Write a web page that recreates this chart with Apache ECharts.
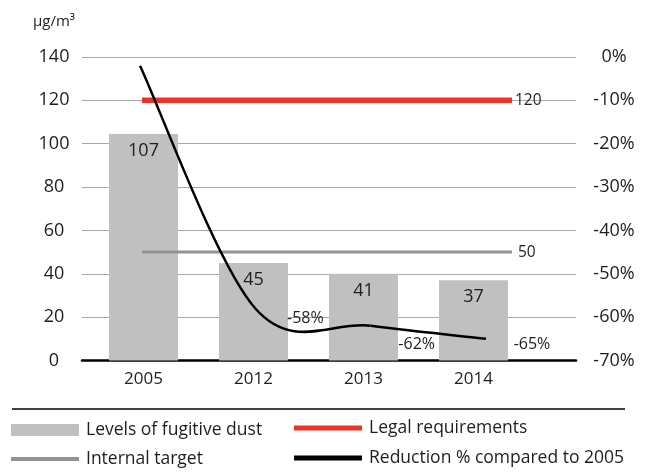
<!DOCTYPE html>
<html>
<head>
<meta charset="utf-8">
<script src="https://cdn.jsdelivr.net/npm/echarts@6/dist/echarts.min.js"></script>
<style>html,body{margin:0;padding:0;background:#fff}#c{width:647px;height:475px}</style>
</head>
<body>
<div id="c"></div>
<script>
// ---- data ----
var years = ['2005', '2012', '2013', '2014'];
var dustLevels = [104.5, 45, 40, 37];          // bar heights
var dustLabels = ['107', '45', '41', '37'];    // printed values on the bars
var legalRequirement = [120, 120, 120, 120];
var internalTarget = [50, 50, 50, 50];
var reductionPct = [-2, -58, -62, -65];
var leftTicks = [0, 140, 20];
var rightTicks = [-70, 0, 10];

var FONT = 'Open Sans';
var TXT = '#1e1e1e';
var labelOffsets = [null, [50, 10], [46, 19], [46, 6]];

var chart = echarts.init(document.getElementById('c'));
var grids = [
  {left: 82, right: 71, top: 57, bottom: 114.5},
  {left: 88.5, right: 118.5, top: 57, bottom: 114.5},
  {left: 140, right: 161, top: 57, bottom: 114.5},
  {left: 142, right: 135, top: 57, bottom: 114.5}
];

function legend(name, left, top, h) {
  return {
    data: [name], left: left, top: top, orient: 'horizontal',
    itemWidth: 68, itemHeight: h, icon: 'rect', selectedMode: false,
    padding: 0,
    textStyle: {fontFamily: FONT, fontSize: 17.5, color: TXT, padding: [0, 0, 0, 2]}
  };
}

var option = {
  animation: false,
  title: {text: 'μg/m³', left: 28, top: 9, textStyle: {fontFamily: FONT, fontSize: 15, fontWeight: 'normal', color: TXT}},
  grid: grids,
  xAxis: [
    {gridIndex: 0, type: 'value', min: 0, max: 1, axisLabel: {show: false}, axisTick: {show: false}, splitLine: {show: false},
     axisLine: {show: true, onZero: false, lineStyle: {color: '#000', width: 2.5}}},
    {gridIndex: 1, type: 'category', data: years, axisLine: {show: false}, axisTick: {show: false},
     axisLabel: {fontFamily: FONT, fontSize: 17, color: TXT, margin: 10}},
    {gridIndex: 2, type: 'category', data: years, boundaryGap: false, show: false},
    {gridIndex: 3, type: 'category', data: years, boundaryGap: false, show: false}
  ],
  yAxis: [
    {gridIndex: 0, type: 'value', min: leftTicks[0], max: leftTicks[1], interval: leftTicks[2], position: 'left',
     axisLine: {show: false}, axisTick: {show: false},
     axisLabel: {fontFamily: FONT, fontSize: 18, color: TXT, margin: 28, align: 'center'},
     splitLine: {show: true, lineStyle: {color: '#a8a8a8', width: 1.2}}},
    {gridIndex: 0, type: 'value', min: rightTicks[0], max: rightTicks[1], interval: rightTicks[2], position: 'right',
     axisLine: {show: false}, axisTick: {show: false}, splitLine: {show: false},
     axisLabel: {fontFamily: FONT, fontSize: 18, color: TXT, margin: 38, align: 'center', formatter: function (v) { return v + '%'; }}},
    {gridIndex: 1, type: 'value', min: leftTicks[0], max: leftTicks[1], show: false, splitLine: {show: false}},
    {gridIndex: 2, type: 'value', min: rightTicks[0], max: rightTicks[1], show: false, splitLine: {show: false}},
    {gridIndex: 3, type: 'value', min: leftTicks[0], max: leftTicks[1], show: false, splitLine: {show: false}}
  ],
  legend: [
    legend('Levels of fugitive dust', 11, 421, 12),
    legend('Internal target', 11, 450, 4),
    legend('Legal requirements', 294, 419, 5),
    legend('Reduction % compared to 2005', 294, 449, 5)
  ],
  graphic: [
    {type: 'line', shape: {x1: 12, y1: 409, x2: 625, y2: 409}, style: {stroke: '#000', lineWidth: 1.5}}
  ],
  series: [
    {
      name: 'Levels of fugitive dust', type: 'bar', xAxisIndex: 1, yAxisIndex: 2,
      data: dustLevels, barWidth: 69, color: '#c0c0c0', itemStyle: {color: '#c0c0c0'},
      label: {show: true, position: 'insideTop', distance: 8, fontFamily: FONT, fontSize: 18, color: TXT,
        formatter: function (p) { return dustLabels[p.dataIndex]; }},
      z: 2
    },
    {
      name: 'Internal target', type: 'line', xAxisIndex: 3, yAxisIndex: 4,
      data: internalTarget, showSymbol: false, symbol: 'none', color: '#929292',
      itemStyle: {color: '#929292'}, lineStyle: {color: '#929292', width: 3, cap: 'butt'},
      endLabel: {show: true, distance: 6, fontFamily: FONT, fontSize: 15.5, color: TXT, formatter: function (p) { return String(internalTarget[p.dataIndex]); }},
      z: 3
    },
    {
      name: 'Legal requirements', type: 'line', xAxisIndex: 3, yAxisIndex: 4,
      data: legalRequirement, showSymbol: false, symbol: 'none', color: '#ee3226',
      itemStyle: {color: '#ee3226'}, lineStyle: {color: '#ee3226', width: 5.5, cap: 'butt'},
      endLabel: {show: true, distance: 3, fontFamily: FONT, fontSize: 15.5, color: TXT, formatter: function (p) { return String(legalRequirement[p.dataIndex]); }},
      z: 3
    },
    {
      name: 'Reduction % compared to 2005', type: 'custom', xAxisIndex: 2, yAxisIndex: 3,
      color: '#000', itemStyle: {color: '#000'},
      data: reductionPct.map(function (v, i) { return [i, v]; }),
      encode: {x: 0, y: 1},
      renderItem: function (params, api) {
        var i = params.dataIndex;
        if (i === 0) {
          var pts = reductionPct.map(function (v, k) { return api.coord([k, v]); });
          var n = pts.length, children = [];
          for (var k = 0; k < n - 1; k++) {
            var p0 = pts[Math.max(k - 1, 0)], p1 = pts[k], p2 = pts[k + 1], p3 = pts[Math.min(k + 2, n - 1)];
            children.push({
              type: 'bezierCurve',
              shape: {
                x1: p1[0], y1: p1[1], x2: p2[0], y2: p2[1],
                cpx1: p1[0] + (p2[0] - p0[0]) / 6, cpy1: p1[1] + (p2[1] - p0[1]) / 6,
                cpx2: p2[0] - (p3[0] - p1[0]) / 6, cpy2: p2[1] - (p3[1] - p1[1]) / 6
              },
              style: {stroke: '#000', lineWidth: 2.5, fill: null}
            });
          }
          return {type: 'group', children: children};
        }
        var c = api.coord([i, reductionPct[i]]);
        var off = labelOffsets[i];
        return {
          type: 'text', x: c[0] + off[0], y: c[1] + off[1],
          style: {text: reductionPct[i] + '%', fontFamily: FONT, fontSize: 16, fill: TXT, align: 'center', verticalAlign: 'middle'}
        };
      },
      z: 4
    }
  ]
};
chart.setOption(option);
</script>
</body>
</html>
